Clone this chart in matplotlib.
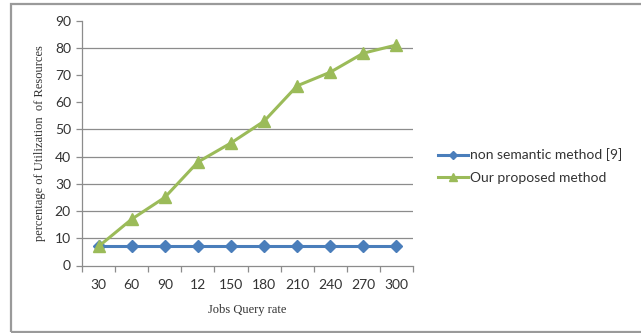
import matplotlib
matplotlib.use("Agg")
import matplotlib.pyplot as plt
from matplotlib.patches import Rectangle
from matplotlib.lines import Line2D

# Data
query_rates = ["30", "60", "90", "12", "150", "180", "210", "240", "270", "300"]
non_semantic = [7, 7, 7, 7, 7, 7, 7, 7, 7, 7]
proposed = [7, 17, 25, 38, 45, 53, 66, 71, 78, 81]
y_ticks = [0, 10, 20, 30, 40, 50, 60, 70, 80, 90]
grid_levels = [10, 20, 30, 40, 50, 80]
series_names = ["non semantic method [9]", "Our proposed method"]

W, H = 641, 333
fig = plt.figure(figsize=(W / 100, H / 100), dpi=100)
fig.patch.set_facecolor("white")

# outer chart frame
fig.patches.append(Rectangle((11 / W, 1.5 / H), 1.0, (329.5 - 1.5) / H,
                             transform=fig.transFigure, fill=False,
                             edgecolor="#9a9a9a", linewidth=1.6))

ax = fig.add_axes([82 / W, (H - 265.5) / H, (413 - 82) / W, (265.5 - 20.5) / H])
x = list(range(len(query_rates)))

for g in grid_levels:
    ax.axhline(g, color="#8c8c8c", linewidth=0.9, zorder=0)

blue = "#4a7ebb"
green = "#9bbb59"
ax.plot(x, non_semantic, color=blue, linewidth=2.2, marker="D", markersize=6.5,
        label=series_names[0], zorder=3)
ax.plot(x, proposed, color=green, linewidth=2.2, marker="^", markersize=9,
        label=series_names[1], zorder=4)

ax.set_xlim(-0.5, len(query_rates) - 0.5)
ax.set_ylim(0, 90)
ax.set_yticks(y_ticks)
ax.set_xticks(x)
ax.set_xticklabels(query_rates)
ax.set_xticks([i - 0.5 for i in range(len(query_rates) + 1)], minor=True)
ax.tick_params(axis="x", which="major", length=0, pad=10)
ax.tick_params(axis="x", which="minor", length=4, color="#8c8c8c", width=0.9)
ax.tick_params(axis="y", length=4, color="#8c8c8c", width=0.9, pad=4)

for lab in ax.get_xticklabels() + ax.get_yticklabels():
    lab.set_fontfamily("Lato")
    lab.set_fontsize(10)
    lab.set_color("#333333")

for s in ["top", "right"]:
    ax.spines[s].set_visible(False)
for s in ["left", "bottom"]:
    ax.spines[s].set_color("#8c8c8c")
    ax.spines[s].set_linewidth(0.9)

ax.set_xlabel("Jobs Query rate", fontfamily="Liberation Serif", fontsize=9,
              color="#333333", labelpad=9)
ax.set_ylabel("percentage of Utilization  of Resources", fontfamily="Liberation Serif",
              fontsize=9, color="#333333", labelpad=6)

handles = [Line2D([], [], color=blue, linewidth=2.2, marker="D", markersize=4),
           Line2D([], [], color=green, linewidth=2.2, marker="^", markersize=6)]
leg = fig.legend(handles, series_names, loc="upper left",
                 bbox_to_anchor=(432 / W, (H - 143) / H), frameon=False,
                 prop={"family": "Lato", "size": 10}, handlelength=2.2,
                 handletextpad=0.15, labelspacing=0.75, borderaxespad=0)
for t in leg.get_texts():
    t.set_color("#333333")

fig.savefig("out.png", dpi=100, facecolor="white")
